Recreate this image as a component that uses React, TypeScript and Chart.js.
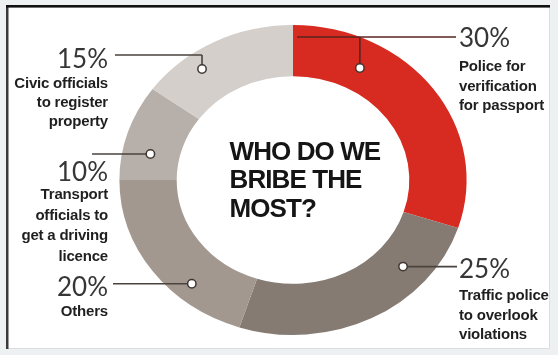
import React, { useEffect, useRef } from "react";
import { Chart, registerables } from "chart.js";

Chart.register(...registerables);

// ---- data ----
const categories = [
  "Police for verification for passport",
  "Traffic police to overlook violations",
  "Others",
  "Transport officials to get a driving licence",
  "Civic officials to register property",
];
const shares = [30, 25, 20, 10, 15];
const percentLabels = ["30%", "25%", "20%", "10%", "15%"];
const labelLines = [
  ["Police for", "verification", "for passport"],
  ["Traffic police", "to overlook", "violations"],
  ["Others"],
  ["Transport", "officials to", "get a driving", "licence"],
  ["Civic officials", "to register", "property"],
];
const sliceColors = ["#d72a20", "#867b73", "#a2988f", "#b7afa9", "#d4cfcb"];
const titleLines = ["WHO DO WE", "BRIBE THE", "MOST?"];

// ---- layout (not data) ----
const STRETCH_X = 1.12;
type Callout = {
  side: "left" | "right";
  textX: number;
  pctBaseline: number;
  firstLine: number;
  step: number;
  dotT: number; // fraction along the slice
  dotR: number; // fraction across the ring
  elbowY?: number;
  lineStartX?: number;
  lineEndX: number;
};
const callouts: Callout[] = [
  { side: "right", textX: 459, pctBaseline: 47, firstLine: 71, step: 19.5, dotT: 0.26, dotR: 0.45, elbowY: 37, lineStartX: 297, lineEndX: 456 },
  { side: "right", textX: 459, pctBaseline: 278, firstLine: 300, step: 19.5, dotT: 0.26, dotR: 0.53, lineEndX: 457 },
  { side: "left", textX: 108, pctBaseline: 296, firstLine: 316, step: 20, dotT: 0.32, dotR: 0.66, lineEndX: 113 },
  { side: "left", textX: 108, pctBaseline: 181, firstLine: 199, step: 20.5, dotT: 0.32, dotR: 0.51, lineEndX: 92 },
  { side: "left", textX: 108, pctBaseline: 68, firstLine: 88, step: 19, dotT: 0.33, dotR: 0.66, elbowY: 55, lineEndX: 115 },
];

const framePlugin = {
  id: "frame",
  beforeDraw(chart: any) {
    const { ctx, width, height } = chart;
    ctx.save();
    ctx.fillStyle = "#eef1f1";
    ctx.fillRect(0, 0, width, height);
    ctx.fillStyle = "#ffffff";
    ctx.fillRect(7, 6, 543, 342);
    ctx.strokeStyle = "#dadedf";
    ctx.lineWidth = 1;
    ctx.beginPath();
    ctx.moveTo(549.5, 6);
    ctx.lineTo(549.5, 348.5);
    ctx.lineTo(7, 348.5);
    ctx.stroke();
    ctx.fillStyle = "#3a3a3a";
    ctx.fillRect(6, 6, 2.5, 343);
    ctx.fillStyle = "#111111";
    ctx.fillRect(6, 5, 544, 2.6);
    ctx.restore();
  },
};

const stretchPlugin = {
  id: "stretch",
  beforeDatasetsDraw(chart: any) {
    const arc = chart.getDatasetMeta(0).data[0];
    if (!arc) return;
    const ctx = chart.ctx;
    ctx.save();
    ctx.translate(arc.x, arc.y);
    ctx.scale(STRETCH_X, 1);
    ctx.translate(-arc.x, -arc.y);
  },
  afterDatasetsDraw(chart: any) {
    chart.ctx.restore();
  },
};

const calloutPlugin = {
  id: "callouts",
  afterDraw(chart: any) {
    const ctx = chart.ctx;
    const arcs = chart.getDatasetMeta(0).data;
    ctx.save();
    const dots: { x: number; y: number }[] = [];
    arcs.forEach((a: any, i: number) => {
      const c = callouts[i];
      const ang = a.startAngle + (a.endAngle - a.startAngle) * c.dotT;
      const r = a.innerRadius + (a.outerRadius - a.innerRadius) * c.dotR;
      const dx = a.x + STRETCH_X * r * Math.cos(ang);
      const dy = a.y + r * Math.sin(ang);
      dots.push({ x: dx, y: dy });
      ctx.strokeStyle = i === 0 ? "#5a2520" : "#4a433e";
      ctx.lineWidth = 1.6;
      ctx.beginPath();
      if (c.elbowY !== undefined) {
        ctx.moveTo(dx, dy);
        ctx.lineTo(dx, c.elbowY);
        ctx.moveTo(c.lineStartX !== undefined ? c.lineStartX : dx, c.elbowY);
        ctx.lineTo(c.lineEndX, c.elbowY);
      } else {
        ctx.moveTo(dx, dy);
        ctx.lineTo(c.lineEndX, dy);
      }
      ctx.stroke();
    });
    dots.forEach((d) => {
      ctx.beginPath();
      ctx.arc(d.x, d.y, 4.2, 0, Math.PI * 2);
      ctx.fillStyle = "#ffffff";
      ctx.fill();
      ctx.strokeStyle = "#3e3733";
      ctx.lineWidth = 1.5;
      ctx.stroke();
    });

    callouts.forEach((c, i) => {
      ctx.textAlign = c.side === "left" ? "right" : "left";
      ctx.textBaseline = "alphabetic";
      ctx.fillStyle = "#363636";
      ctx.font = "400 26px Lato, 'Liberation Sans', sans-serif";
      ctx.fillText(percentLabels[i], c.textX, c.pctBaseline);
      ctx.fillStyle = "#1f1f1f";
      ctx.font = "bold 15px 'Liberation Sans', Arial, sans-serif";
      (ctx as any).letterSpacing = "-0.2px";
      labelLines[i].forEach((t, j) => {
        ctx.fillText(t, c.textX, c.firstLine + j * c.step);
      });
      (ctx as any).letterSpacing = "0px";
    });

    ctx.textAlign = "left";
    ctx.fillStyle = "#151515";
    ctx.font = "bold 26px 'Liberation Sans', Arial, sans-serif";
    (ctx as any).letterSpacing = "-0.9px";
    const baselines = [159.5, 188, 216.5];
    titleLines.forEach((t, j) => ctx.fillText(t, 229.5, baselines[j]));
    (ctx as any).letterSpacing = "0px";
    ctx.restore();
  },
};

export default function App() {
  const ref = useRef<HTMLCanvasElement | null>(null);
  useEffect(() => {
    document.body.style.margin = "0";
    if (!ref.current) return;
    const chart = new Chart(ref.current, {
      type: "doughnut",
      data: {
        labels: categories,
        datasets: [
          {
            data: shares,
            backgroundColor: sliceColors,
            borderWidth: 0,
            clip: false as any,
          },
        ],
      },
      options: {
        responsive: false,
        animation: false,
        events: [],
        cutout: "67%",
        layout: { padding: { left: 119, right: 91, top: 25, bottom: 20 } },
        plugins: { legend: { display: false }, tooltip: { enabled: false } },
      },
      plugins: [framePlugin, stretchPlugin, calloutPlugin],
    });
    return () => chart.destroy();
  }, []);
  return (
    <div style={{ width: 558, height: 355 }}>
      <canvas ref={ref} width={558} height={355} style={{ display: "block", width: 558, height: 355 }} />
    </div>
  );
}
